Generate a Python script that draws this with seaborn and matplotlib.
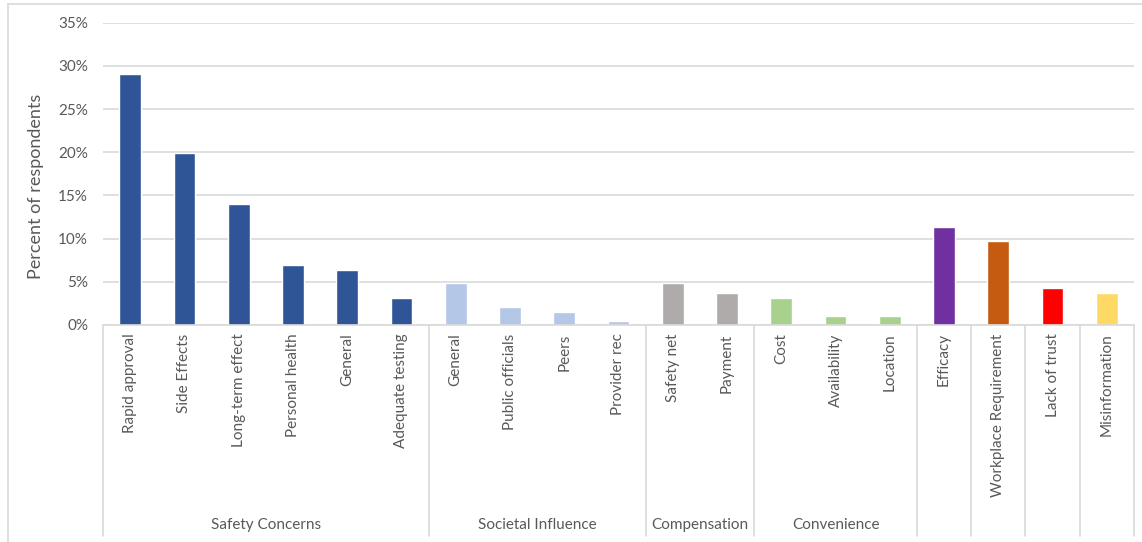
import matplotlib
matplotlib.use("Agg")
import matplotlib.pyplot as plt
import matplotlib.transforms as mtransforms
from matplotlib.ticker import PercentFormatter
import seaborn as sns
import pandas as pd

# ---- data ----
groups = ["Safety Concerns"] * 6 + ["Societal Influence"] * 4 + ["Compensation"] * 2 + \
         ["Convenience"] * 3 + ["", "", "", ""]
labels = ["Rapid approval", "Side Effects", "Long-term effect", "Personal health", "General",
          "Adequate testing", "General", "Public officials", "Peers", "Provider rec",
          "Safety net", "Payment", "Cost", "Availability", "Location",
          "Efficacy", "Workplace Requirement", "Lack of trust", "Misinformation"]
values = [29.1, 19.9, 14.0, 7.0, 6.4, 3.15, 4.9, 2.1, 1.55, 0.45,
          4.9, 3.7, 3.1, 1.0, 1.0, 11.3, 9.7, 4.3, 3.7]
# group spans (start index, count) for the second-level axis
group_spans = [("Safety Concerns", 0, 6), ("Societal Influence", 6, 4), ("Compensation", 10, 2),
               ("Convenience", 12, 3), ("", 15, 1), ("", 16, 1), ("", 17, 1), ("", 18, 1)]

# ---- styles ----
group_colors = {"Safety Concerns": "#2F5597", "Societal Influence": "#B4C7E7",
                "Compensation": "#AFABAB", "Convenience": "#A9D18E"}
single_colors = {"Efficacy": "#7030A0", "Workplace Requirement": "#C55A11",
                 "Lack of trust": "#FF0000", "Misinformation": "#FFD966"}
bar_colors = [group_colors.get(g) or single_colors[l] for g, l in zip(groups, labels)]

keys = [f"{i}:{l}" for i, l in enumerate(labels)]
df = pd.DataFrame({"key": keys, "value": values})

sns.set_theme(style="white")
plt.rcParams["font.family"] = ["Lato", "DejaVu Sans"]
txt = "#595959"
grid_c = "#D9D9D9"

W, H = 1142, 542
fig = plt.figure(figsize=(W / 100, H / 100), dpi=100)
left, right, top, bottom = 103, 1134, 22.7, 325
ax = fig.add_axes([left / W, 1 - bottom / H, (right - left) / W, (bottom - top) / H])

sns.barplot(data=df, x="key", y="value", hue="key", palette=bar_colors, order=keys,
            legend=False, width=0.40, saturation=1, ax=ax)

ax.set_xlim(-0.5, len(labels) - 0.5)
ax.set_ylim(0, 35)
ax.set_yticks(range(0, 36, 5))
ax.yaxis.set_major_formatter(PercentFormatter(decimals=0))
ax.grid(axis="y", color=grid_c, linewidth=1.2)
ax.set_axisbelow(True)
for s in ["top", "right", "left"]:
    ax.spines[s].set_visible(False)
ax.spines["bottom"].set_color(grid_c)
ax.spines["bottom"].set_linewidth(1.2)
ax.tick_params(axis="y", length=0, pad=10.8, labelsize=11, labelcolor=txt)
ax.set_xticks(range(len(labels)))
ax.set_xticklabels(labels, rotation=90, fontsize=11, color=txt, va="top", ha="center")
ax.tick_params(axis="x", length=0, pad=6)
ax.set_xlabel("")
ax.set_ylabel("Percent of respondents", fontsize=13, color=txt)
ax.yaxis.set_label_coords(-0.057, 0.457)

# second-level axis: separators and group names
trans = mtransforms.blended_transform_factory(ax.transData, ax.transAxes)
y_low = -(536 - bottom) / (bottom - top)
y_name = -(525 - bottom) / (bottom - top)
edges = [-0.5] + [s + n - 0.5 for _, s, n in group_spans]
for e in edges:
    ax.plot([e, e], [0, y_low], transform=trans, color=grid_c, lw=1.2, clip_on=False)
for name, s, n in group_spans:
    if name:
        ax.text(s + (n - 1) / 2, y_name, name, transform=trans, ha="center", va="center",
                fontsize=11, color=txt)

# outer chart border (left and top visible)
fig.add_artist(plt.Line2D([8 / W, 8 / W], [0, 1 - 4 / H], color=grid_c, lw=1.2))
fig.add_artist(plt.Line2D([8 / W, 1], [1 - 4 / H, 1 - 4 / H], color=grid_c, lw=1.2))

fig.savefig("out.png", dpi=100, facecolor="white")
